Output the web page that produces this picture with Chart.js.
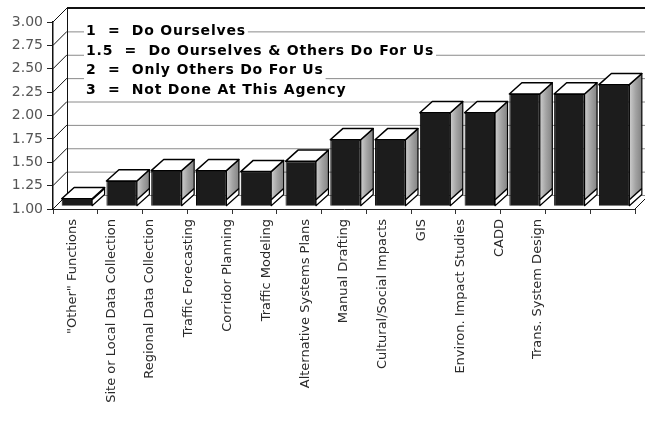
<!DOCTYPE html>
<html>
<head>
<meta charset="utf-8">
<script src="https://cdn.jsdelivr.net/npm/chart.js@4.4.0/dist/chart.umd.min.js"></script>
<style>
  html, body { margin: 0; padding: 0; background: #fff; }
  #chart { display: block; }
</style>
</head>
<body>
<canvas id="chart" width="645" height="422"></canvas>
<script>
// Agency functions, sorted by mean score
const functions = [
  '"Other" Functions', 'Site or Local Data Collection', 'Regional Data Collection',
  'Traffic Forecasting', 'Corridor Planning', 'Traffic Modeling',
  'Alternative Systems Plans', 'Manual Drafting', 'Cultural/Social Impacts',
  'GIS', 'Environ. Impact Studies', 'CADD', 'Trans. System Design'
];
const scores = [1.08, 1.27, 1.38, 1.38, 1.37, 1.48, 1.71, 1.71, 2.00, 2.00, 2.20, 2.20, 2.30];
const yTicks = [1.00, 1.25, 1.50, 1.75, 2.00, 2.25, 2.50, 2.75, 3.00];
const scaleKey = [
  '1  =  Do Ourselves',
  '1.5  =  Do Ourselves & Others Do For Us',
  '2  =  Only Others Do For Us',
  '3  =  Not Done At This Agency'
];

// 3D look: how far the back wall sits from the front plane, and where the bars start
const WALL = { dx: 14, dy: -14 };
const BAR_LIFT = { dx: 1.5, dy: -2.8 };
const BAR_DEPTH = { dx: WALL.dx - BAR_LIFT.dx, dy: WALL.dy - BAR_LIFT.dy };

function poly(ctx, pts) {
  ctx.beginPath();
  ctx.moveTo(pts[0][0], pts[0][1]);
  for (let i = 1; i < pts.length; i++) ctx.lineTo(pts[i][0], pts[i][1]);
  ctx.closePath();
}

const box3d = {
  id: 'box3d',
  beforeDatasetsDraw(chart) {
    const ctx = chart.ctx;
    const area = chart.chartArea;
    const y = chart.scales.y;
    const backLeft = area.left + WALL.dx;
    ctx.save();
    // back wall grid lines and the slanted lines on the left wall
    yTicks.forEach(v => {
      const py = y.getPixelForValue(v);
      ctx.lineWidth = 1;
      ctx.strokeStyle = '#111';
      ctx.beginPath();
      ctx.moveTo(area.left, py);
      ctx.lineTo(backLeft, py + WALL.dy);
      ctx.stroke();
      if (v < 3) {
        ctx.strokeStyle = '#8a8a8a';
        ctx.beginPath();
        ctx.moveTo(backLeft, py + WALL.dy + 0.5);
        ctx.lineTo(chart.width, py + WALL.dy + 0.5);
        ctx.stroke();
      }
    });
    const top = y.getPixelForValue(3) + WALL.dy;
    const bottom = y.getPixelForValue(1) + WALL.dy;
    ctx.strokeStyle = '#111';
    ctx.lineWidth = 1;
    ctx.beginPath();
    ctx.moveTo(backLeft + 0.5, top);
    ctx.lineTo(backLeft + 0.5, bottom);
    ctx.stroke();
    ctx.lineWidth = 2;
    ctx.beginPath();
    ctx.moveTo(backLeft, top);
    ctx.lineTo(chart.width, top);
    ctx.stroke();
    // right end of the floor
    ctx.lineWidth = 1;
    ctx.beginPath();
    ctx.moveTo(area.right, area.bottom);
    ctx.lineTo(area.right + WALL.dx, area.bottom + WALL.dy);
    ctx.stroke();
    ctx.restore();

    // bars sit a little behind the front plane
    ctx.save();
    ctx.translate(BAR_LIFT.dx, BAR_LIFT.dy);
  },
  afterDatasetsDraw(chart) {
    const ctx = chart.ctx;
    const { dx, dy } = BAR_DEPTH;
    chart.getDatasetMeta(0).data.forEach(bar => {
      const { x, y, base, width } = bar.getProps(['x', 'y', 'base', 'width'], true);
      const l = x - width / 2, r = x + width / 2;
      ctx.lineJoin = 'round';
      // side face
      const g = ctx.createLinearGradient(r, 0, r + dx, 0);
      g.addColorStop(0, '#cdcdcd');
      g.addColorStop(0.5, '#a3a3a3');
      g.addColorStop(1, '#838383');
      poly(ctx, [[r, y], [r + dx, y + dy], [r + dx, base + dy], [r, base]]);
      ctx.fillStyle = g;
      ctx.fill();
      // light strip at the foot of the side face
      poly(ctx, [[r, base], [r + dx, base + dy], [r + dx, base + dy - 6], [r, base - 6]]);
      ctx.fillStyle = '#fff';
      ctx.fill();
      ctx.strokeStyle = '#000';
      ctx.lineWidth = 1.5;
      ctx.beginPath();
      ctx.moveTo(r, base - 6);
      ctx.lineTo(r + dx, base + dy - 6);
      ctx.stroke();
      poly(ctx, [[r, y], [r + dx, y + dy], [r + dx, base + dy], [r, base]]);
      ctx.lineWidth = 1.2;
      ctx.stroke();
      // top face
      poly(ctx, [[l, y], [l + dx, y + dy], [r + dx, y + dy], [r, y]]);
      ctx.fillStyle = '#fff';
      ctx.fill();
      ctx.lineWidth = 1.5;
      ctx.stroke();
    });
    ctx.restore();
  },
  afterDraw(chart) {
    // key to the scores, written on the back wall
    const ctx = chart.ctx;
    ctx.save();
    ctx.font = 'bold 14px "DejaVu Sans"';
    ctx.letterSpacing = '0.8px';
    ctx.textBaseline = 'middle';
    scaleKey.forEach((t, i) => {
      const ty = 31.5 + i * 19.5;
      const w = ctx.measureText(t).width;
      ctx.fillStyle = '#fff';
      ctx.fillRect(84, ty - 10, w + 4, 20);
      ctx.fillStyle = '#000';
      ctx.fillText(t, 86, ty);
    });
    ctx.restore();
  }
};

new Chart(document.getElementById('chart'), {
  type: 'bar',
  data: {
    labels: functions,
    datasets: [{
      data: scores,
      base: 1,
      backgroundColor: '#1c1c1c',
      borderColor: '#000',
      borderWidth: 1,
      barPercentage: 0.68,
      categoryPercentage: 1
    }]
  },
  options: {
    responsive: false,
    animation: false,
    devicePixelRatio: 1,
    layout: { padding: { top: 22, right: 10, bottom: 0, left: 0 } },
    plugins: { legend: { display: false }, tooltip: { enabled: false } },
    scales: {
      y: {
        min: 1,
        max: 3,
        afterBuildTicks: s => { s.ticks = yTicks.map(v => ({ value: v })); },
        afterFit: s => { s.width = 53; },
        ticks: {
          callback: v => v.toFixed(2),
          font: { family: 'DejaVu Sans', size: 14 },
          color: '#555',
          padding: 4
        },
        grid: { drawOnChartArea: false, tickLength: 6, color: '#222' },
        border: { color: '#111', width: 1.5 }
      },
      x: {
        offset: true,
        afterFit: s => { s.height = 6; },
        ticks: { display: false },
        grid: { offset: true, drawOnChartArea: false, tickLength: 5, color: '#333' },
        border: { color: '#222', width: 1 }
      },
      x2: {
        type: 'category',
        position: 'bottom',
        labels: functions.concat(['', '']),
        offset: true,
        weight: 1,
        afterFit: s => { s.height = 207; },
        grid: { display: false },
        border: { display: false },
        ticks: {
          autoSkip: false,
          minRotation: 90,
          maxRotation: 90,
          padding: -4,
          font: { family: 'DejaVu Sans', size: 13 },
          color: '#2a2a2a'
        }
      }
    }
  },
  plugins: [box3d]
});
</script>
</body>
</html>
